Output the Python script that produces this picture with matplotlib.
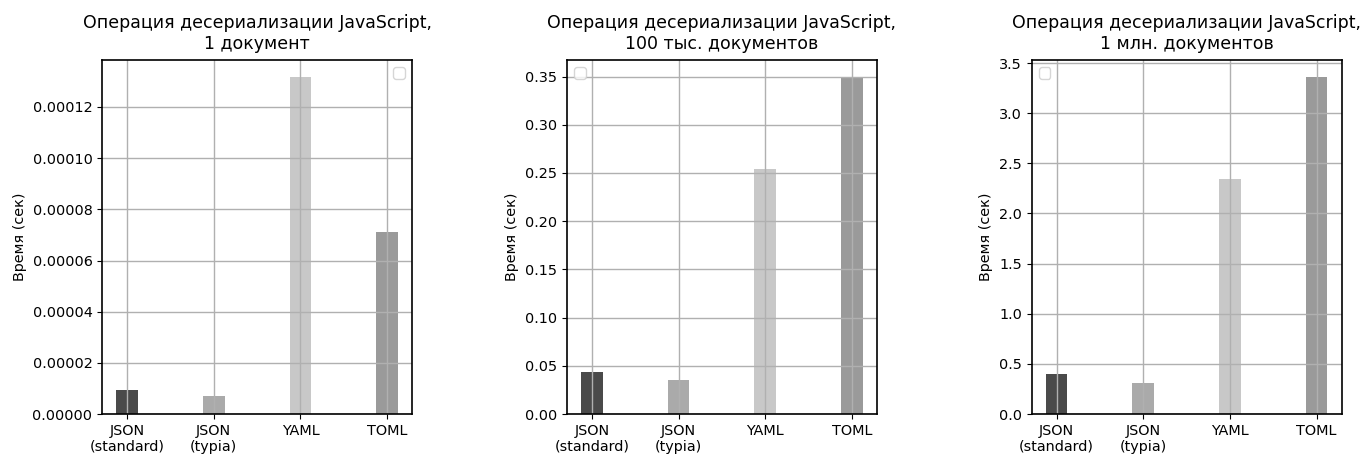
import matplotlib
matplotlib.use("Agg")
import matplotlib.pyplot as plt
import warnings
warnings.filterwarnings("ignore")

categories = ["JSON\n(standard)", "JSON\n(typia)", "YAML", "TOML"]
bar_colors = ["#4a4a4a", "#aaaaaa", "#c8c8c8", "#9a9a9a"]

titles = [
    "Операция десериализации JavaScript,\n1 документ",
    "Операция десериализации JavaScript,\n100 тыс. документов",
    "Операция десериализации JavaScript,\n1 млн. документов",
]
values_1 = [0.0000094, 0.0000071, 0.0001318, 0.0000712]
values_100k = [0.0435, 0.0349, 0.2536, 0.3497]
values_1m = [0.398, 0.314, 2.342, 3.363]
legend_locs = ["upper right", "upper left", "upper left"]

plt.rcParams["font.size"] = 10.4
plt.rcParams["font.family"] = ["DejaVu Sans"]
plt.rcParams["axes.linewidth"] = 1.2
plt.rcParams["grid.linewidth"] = 1.0

fig, axes = plt.subplots(1, 3, figsize=(13.62, 4.54), dpi=100)
fig.subplots_adjust(left=0.075, right=0.985, top=0.868, bottom=0.088, wspace=0.5)

for ax, vals, title, loc in zip(axes, [values_1, values_100k, values_1m], titles, legend_locs):
    ax.bar(categories, vals, width=0.25, color=bar_colors)
    ax.set_title(title, pad=8)
    ax.set_ylabel("Время (сек)")
    ax.grid(True)
    ax.legend(loc=loc)

fig.savefig("out.png", dpi=100)
